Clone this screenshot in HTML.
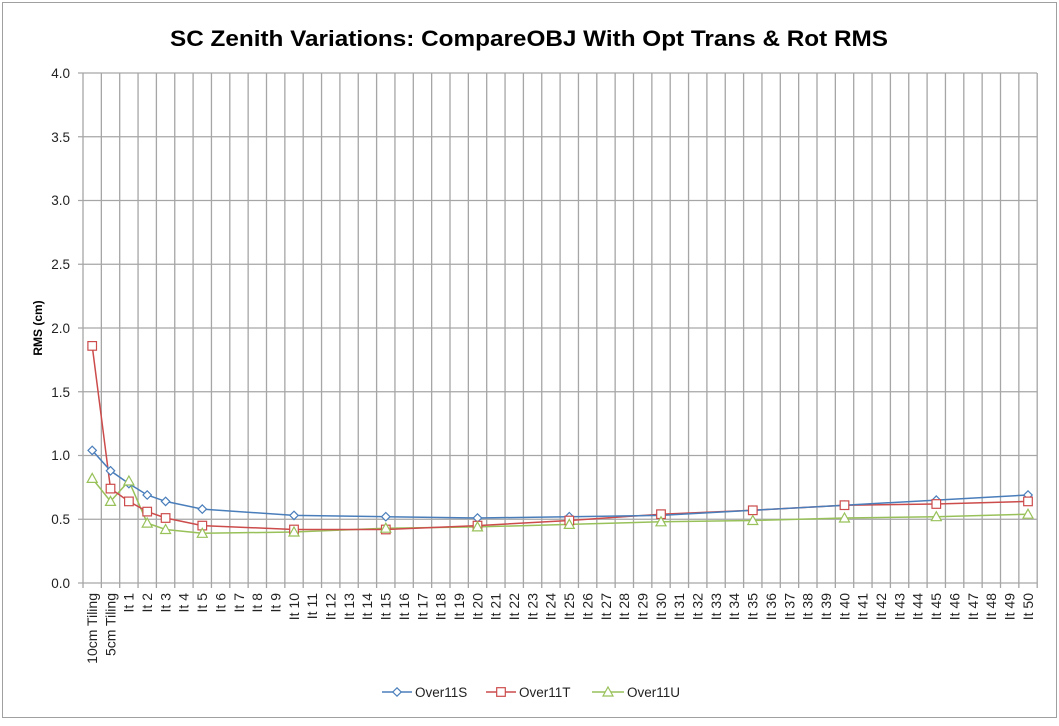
<!DOCTYPE html>
<html><head><meta charset="utf-8"><style>html,body{margin:0;padding:0;background:#fff}</style></head>
<body>
<svg width="1059" height="721" xmlns="http://www.w3.org/2000/svg" font-family="Liberation Sans, sans-serif">
<rect x="0" y="0" width="1059" height="721" fill="#fff"/>
<rect x="2.5" y="2.5" width="1054" height="715" fill="none" stroke="#a0a0a0" stroke-width="1"/>
<text x="529" y="46" text-anchor="middle" font-size="22" font-weight="bold" textLength="718" lengthAdjust="spacingAndGlyphs">SC Zenith Variations: CompareOBJ With Opt Trans &amp; Rot RMS</text>
<g stroke="#a6a6a6" stroke-width="1.3">
<line x1="78" y1="73" x2="1037" y2="73"/>
<line x1="78" y1="136.75" x2="1037" y2="136.75"/>
<line x1="78" y1="200.5" x2="1037" y2="200.5"/>
<line x1="78" y1="264.25" x2="1037" y2="264.25"/>
<line x1="78" y1="328" x2="1037" y2="328"/>
<line x1="78" y1="391.75" x2="1037" y2="391.75"/>
<line x1="78" y1="455.5" x2="1037" y2="455.5"/>
<line x1="78" y1="519.25" x2="1037" y2="519.25"/>
<line x1="78" y1="583" x2="1037" y2="583"/>
<path d="M83 73V588M101.35 73V588M119.7 73V588M138.05 73V588M156.4 73V588M174.75 73V588M193.1 73V588M211.45 73V588M229.8 73V588M248.15 73V588M266.5 73V588M284.85 73V588M303.2 73V588M321.55 73V588M339.9 73V588M358.25 73V588M376.6 73V588M394.95 73V588M413.3 73V588M431.65 73V588M450 73V588M468.35 73V588M486.7 73V588M505.05 73V588M523.4 73V588M541.75 73V588M560.1 73V588M578.45 73V588M596.8 73V588M615.15 73V588M633.5 73V588M651.85 73V588M670.2 73V588M688.55 73V588M706.9 73V588M725.25 73V588M743.6 73V588M761.95 73V588M780.3 73V588M798.65 73V588M817 73V588M835.35 73V588M853.7 73V588M872.05 73V588M890.4 73V588M908.75 73V588M927.1 73V588M945.45 73V588M963.8 73V588M982.15 73V588M1000.5 73V588M1018.85 73V588M1037.2 73V588"/>
</g>
<g font-size="13.5" fill="#222" text-anchor="end">
<text x="70" y="78">4.0</text><text x="70" y="142">3.5</text><text x="70" y="205">3.0</text><text x="70" y="269">2.5</text><text x="70" y="333">2.0</text><text x="70" y="397">1.5</text><text x="70" y="460">1.0</text><text x="70" y="524">0.5</text><text x="70" y="588">0.0</text>
</g>
<text transform="translate(42,328) rotate(-90)" text-anchor="middle" font-size="12" font-weight="bold">RMS (cm)</text>
<g font-size="14" fill="#222" text-anchor="end">
<text transform="translate(97,593) rotate(-90)">10cm Tiling</text>
<text transform="translate(115.3,593) rotate(-90)">5cm Tiling</text>
<text transform="translate(133.7,593) rotate(-90)">It 1</text>
<text transform="translate(152,593) rotate(-90)">It 2</text>
<text transform="translate(170.4,593) rotate(-90)">It 3</text>
<text transform="translate(188.7,593) rotate(-90)">It 4</text>
<text transform="translate(207.1,593) rotate(-90)">It 5</text>
<text transform="translate(225.4,593) rotate(-90)">It 6</text>
<text transform="translate(243.8,593) rotate(-90)">It 7</text>
<text transform="translate(262.1,593) rotate(-90)">It 8</text>
<text transform="translate(280.5,593) rotate(-90)">It 9</text>
<text transform="translate(298.8,593) rotate(-90)">It 10</text>
<text transform="translate(317.2,593) rotate(-90)">It 11</text>
<text transform="translate(335.5,593) rotate(-90)">It 12</text>
<text transform="translate(353.9,593) rotate(-90)">It 13</text>
<text transform="translate(372.2,593) rotate(-90)">It 14</text>
<text transform="translate(390.6,593) rotate(-90)">It 15</text>
<text transform="translate(408.9,593) rotate(-90)">It 16</text>
<text transform="translate(427.3,593) rotate(-90)">It 17</text>
<text transform="translate(445.6,593) rotate(-90)">It 18</text>
<text transform="translate(464,593) rotate(-90)">It 19</text>
<text transform="translate(482.3,593) rotate(-90)">It 20</text>
<text transform="translate(500.7,593) rotate(-90)">It 21</text>
<text transform="translate(519,593) rotate(-90)">It 22</text>
<text transform="translate(537.4,593) rotate(-90)">It 23</text>
<text transform="translate(555.7,593) rotate(-90)">It 24</text>
<text transform="translate(574.1,593) rotate(-90)">It 25</text>
<text transform="translate(592.4,593) rotate(-90)">It 26</text>
<text transform="translate(610.8,593) rotate(-90)">It 27</text>
<text transform="translate(629.1,593) rotate(-90)">It 28</text>
<text transform="translate(647.5,593) rotate(-90)">It 29</text>
<text transform="translate(665.8,593) rotate(-90)">It 30</text>
<text transform="translate(684.2,593) rotate(-90)">It 31</text>
<text transform="translate(702.5,593) rotate(-90)">It 32</text>
<text transform="translate(720.9,593) rotate(-90)">It 33</text>
<text transform="translate(739.2,593) rotate(-90)">It 34</text>
<text transform="translate(757.6,593) rotate(-90)">It 35</text>
<text transform="translate(775.9,593) rotate(-90)">It 36</text>
<text transform="translate(794.3,593) rotate(-90)">It 37</text>
<text transform="translate(812.6,593) rotate(-90)">It 38</text>
<text transform="translate(831,593) rotate(-90)">It 39</text>
<text transform="translate(849.3,593) rotate(-90)">It 40</text>
<text transform="translate(867.7,593) rotate(-90)">It 41</text>
<text transform="translate(886,593) rotate(-90)">It 42</text>
<text transform="translate(904.4,593) rotate(-90)">It 43</text>
<text transform="translate(922.7,593) rotate(-90)">It 44</text>
<text transform="translate(941.1,593) rotate(-90)">It 45</text>
<text transform="translate(959.4,593) rotate(-90)">It 46</text>
<text transform="translate(977.8,593) rotate(-90)">It 47</text>
<text transform="translate(996.1,593) rotate(-90)">It 48</text>
<text transform="translate(1014.5,593) rotate(-90)">It 49</text>
<text transform="translate(1032.8,593) rotate(-90)">It 50</text>
</g>
<defs>
<path id="dm" d="M0 -4.2L4.2 0L0 4.2L-4.2 0Z" fill="#fff" stroke="#4a7ebb" stroke-width="1.2"/>
<rect id="sq" x="-4.3" y="-4.3" width="8.6" height="8.6" fill="#fff" stroke="#cc4b4b" stroke-width="1.2"/>
<path id="tr" d="M0 -5L5 4L-5 4Z" fill="#fff" stroke="#98c15a" stroke-width="1.2"/>
</defs>
<polyline fill="none" stroke="#98c15a" stroke-width="1.5" points="92.2,478.4 110.5,501.4 128.9,481 147.2,523.1 165.6,529.5 202.3,533.3 294,532 385.8,528.2 477.5,526.9 569.3,524.4 661,521.8 752.8,520.5 844.5,518 936.3,516.7 1028,514.2"/>
<polyline fill="none" stroke="#cc4b4b" stroke-width="1.5" points="92.2,345.9 110.5,488.6 128.9,501.4 147.2,511.6 165.6,518 202.3,525.6 294,529.5 385.8,529.5 477.5,525.6 569.3,520.5 661,514.2 752.8,510.3 844.5,505.2 936.3,504 1028,501.4"/>
<polyline fill="none" stroke="#4a7ebb" stroke-width="1.5" points="92.2,450.4 110.5,470.8 128.9,483.6 147.2,495 165.6,501.4 202.3,509.1 294,515.4 385.8,516.7 477.5,518 569.3,516.7 661,515.4 752.8,510.3 844.5,505.2 936.3,500.1 1028,495"/>
<g>
<use href="#dm" x="92.2" y="450.4"/><use href="#dm" x="110.5" y="470.8"/><use href="#dm" x="128.9" y="483.6"/><use href="#dm" x="147.2" y="495"/><use href="#dm" x="165.6" y="501.4"/><use href="#dm" x="202.3" y="509.1"/><use href="#dm" x="294" y="515.4"/><use href="#dm" x="385.8" y="516.7"/><use href="#dm" x="477.5" y="518"/><use href="#dm" x="569.3" y="516.7"/><use href="#dm" x="661" y="515.4"/><use href="#dm" x="752.8" y="510.3"/><use href="#dm" x="844.5" y="505.2"/><use href="#dm" x="936.3" y="500.1"/><use href="#dm" x="1028" y="495"/>
<use href="#sq" x="92.2" y="345.9"/><use href="#sq" x="110.5" y="488.6"/><use href="#sq" x="128.9" y="501.4"/><use href="#sq" x="147.2" y="511.6"/><use href="#sq" x="165.6" y="518"/><use href="#sq" x="202.3" y="525.6"/><use href="#sq" x="294" y="529.5"/><use href="#sq" x="385.8" y="529.5"/><use href="#sq" x="477.5" y="525.6"/><use href="#sq" x="569.3" y="520.5"/><use href="#sq" x="661" y="514.2"/><use href="#sq" x="752.8" y="510.3"/><use href="#sq" x="844.5" y="505.2"/><use href="#sq" x="936.3" y="504"/><use href="#sq" x="1028" y="501.4"/>
<use href="#tr" x="92.2" y="478.4"/><use href="#tr" x="110.5" y="501.4"/><use href="#tr" x="128.9" y="481"/><use href="#tr" x="147.2" y="523.1"/><use href="#tr" x="165.6" y="529.5"/><use href="#tr" x="202.3" y="533.3"/><use href="#tr" x="294" y="532"/><use href="#tr" x="385.8" y="528.2"/><use href="#tr" x="477.5" y="526.9"/><use href="#tr" x="569.3" y="524.4"/><use href="#tr" x="661" y="521.8"/><use href="#tr" x="752.8" y="520.5"/><use href="#tr" x="844.5" y="518"/><use href="#tr" x="936.3" y="516.7"/><use href="#tr" x="1028" y="514.2"/>
</g>
<g font-size="13.5" fill="#222">
<line x1="382" y1="692" x2="412" y2="692" stroke="#4a7ebb" stroke-width="1.5"/><use href="#dm" x="397" y="692"/><text x="415" y="697">Over11S</text>
<line x1="486" y1="692" x2="516" y2="692" stroke="#cc4b4b" stroke-width="1.5"/><use href="#sq" x="501" y="692"/><text x="519" y="697">Over11T</text>
<line x1="592" y1="692" x2="624" y2="692" stroke="#98c15a" stroke-width="1.5"/><use href="#tr" x="608" y="692"/><text x="627" y="697">Over11U</text>
</g>
</svg>
</body></html>
